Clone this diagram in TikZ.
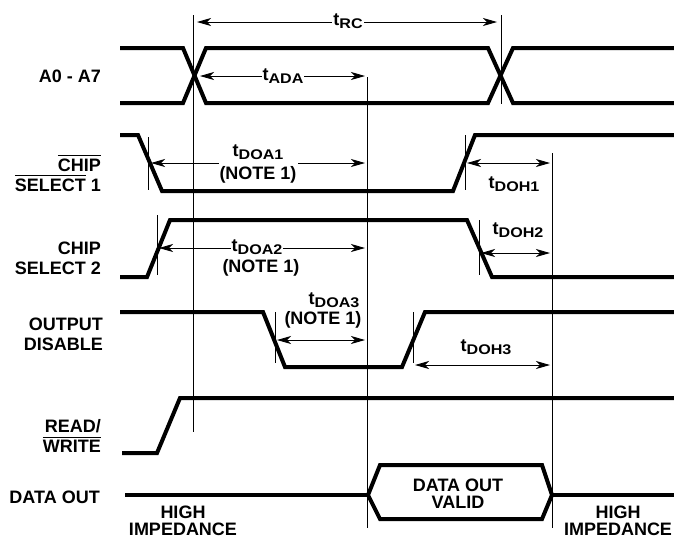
\documentclass[tikz,border=0pt]{standalone}
\usepackage{fontspec}
\setmainfont{Liberation Sans}
\newfontfamily\subfont[FakeStretch=1.15]{Liberation Sans}
\usetikzlibrary{arrows.meta}
\newcommand{\tsub}[1]{t\raisebox{-3pt}{\subfont\bfseries\fontsize{14}{14}\selectfont #1}}
\newcommand{\barred}[1]{\setbox0\hbox{#1}\rlap{\rule[\dimexpr\ht0+2pt\relax]{\wd0}{1.6pt}}\box0\relax}

\begin{document}
\begin{tikzpicture}[x=1pt, y=-1pt,
    sig/.style={line width=4pt},
    hair/.style={line width=0.9pt},
    ddim/.style={hair, {Stealth[length=14pt,width=8pt,inset=4pt]}-{Stealth[length=14pt,width=8pt,inset=4pt]}},
    lbl/.style={font=\bfseries\fontsize{18}{20}\selectfont, align=center, inner sep=1pt},
    sname/.style={lbl, anchor=east, align=right}]
    \useasboundingbox (0,0) rectangle (674,539);

    % signal names
    \node[sname] (nA)   at (102, 76) {A0 - A7};
    \node[sname] (nCS1) at (102,173) {\barred{CHIP}\\\barred{SELECT} 1};
    \node[sname] (nCS2) at (102,258) {CHIP\\SELECT 2};
    \node[sname] (nOD)  at (104,334) {OUTPUT\\DISABLE};
    \node[sname] (nRW)  at (102,436) {READ/\\\barred{WRITE}};
    \node[sname] (nDO)  at (101,497) {DATA OUT};

    % reference lines
    \draw[hair] (193, 15) -- (193,432);
    \draw[hair] (501, 15) -- (501,104);
    \draw[hair] (367, 77) -- (367,528);
    \draw[hair] (552,153) -- (552,528);
    \draw[hair] (148,137) -- (148,190);
    \draw[hair] (465,135) -- (465,190);
    \draw[hair] (157,215) -- (157,275);
    \draw[hair] (479,220) -- (479,275);
    \draw[hair] (275,312) -- (275,363);
    \draw[hair] (413,312) -- (413,363);

    % waveforms
    \draw[sig] (120, 48) -- (183, 48) -- (206,103) -- (488,103) -- (513, 48) -- (674, 48);
    \draw[sig] (120,103) -- (183,103) -- (206, 48) -- (488, 48) -- (513,103) -- (674,103);
    \draw[sig] (120,135) -- (138,135) -- (162,191) -- (453,191) -- (475,135) -- (674,135);
    \draw[sig] (120,277) -- (147,277) -- (170,220) -- (467,220) -- (492,277) -- (674,277);
    \draw[sig] (120,312) -- (263,312) -- (285,367) -- (402,367) -- (425,312) -- (674,312);
    \draw[sig] (122,453) -- (157,453) -- (180,398) -- (674,398);
    \draw[sig] (125,495) -- (368,495);
    \draw[sig] (368,495) -- (380,465) -- (542,465) -- (552,495) -- (542,519) -- (380,519) -- cycle;
    \draw[sig] (552,495) -- (674,495);

    % dimension ends
    \coordinate (rcL)   at (197, 22);  \coordinate (rcR)   at (497, 22);
    \coordinate (adaL)  at (200, 76);  \coordinate (adaR)  at (365, 76);
    \coordinate (doa1L) at (151,163);  \coordinate (doa1R) at (365,163);
    \coordinate (doa2L) at (159,248);  \coordinate (doa2R) at (365,248);
    \coordinate (doa3L) at (277,340);  \coordinate (doa3R) at (365,340);
    \coordinate (doh1L) at (467,163);  \coordinate (doh1R) at (550,163);
    \coordinate (doh2L) at (481,253);  \coordinate (doh2R) at (550,253);
    \coordinate (doh3L) at (415,365);  \coordinate (doh3R) at (550,365);

    \draw[ddim] (rcL)   -- (rcR);
    \draw[ddim] (adaL)  -- (adaR);
    \draw[ddim] (doa1L) -- (doa1R);
    \draw[ddim] (doa2L) -- (doa2R);
    \draw[ddim] (doa3L) -- (doa3R);
    \draw[ddim] (doh1L) -- (doh1R);
    \draw[ddim] (doh2L) -- (doh2R);
    \draw[ddim] (doh3L) -- (doh3R);

    % timing labels
    \node[lbl, fill=white] (lrc)   at (348, 21) {\tsub{RC}};
    \node[lbl, fill=white] (lada)  at (283, 76) {\tsub{ADA}};
    \node[lbl, fill=white, font=\bfseries\fontsize{18}{23}\selectfont] (ldoa1) at (258,164) {\tsub{DOA1}\\(NOTE 1)};
    \node[lbl, fill=white] (ldoa2) at (257,247) {\tsub{DOA2}};
    \node[lbl] (lnote2) at (261,268) {(NOTE 1)};
    \node[lbl] (ldoa3) at (334,300) {\tsub{DOA3}};
    \node[lbl] (lnote3) at (323,320) {(NOTE 1)};
    \node[lbl] (ldoh1) at (514,184) {\tsub{DOH1}};
    \node[lbl] (ldoh2) at (518,230) {\tsub{DOH2}};
    \node[lbl] (ldoh3) at (486,347) {\tsub{DOH3}};

    % data out texts
    \node[lbl, font=\bfseries\fontsize{18}{17}\selectfont] (ldov) at (458,494) {DATA OUT\\VALID};
    \node[lbl, font=\bfseries\fontsize{18}{17.5}\selectfont] (lhi1) at (183,521) {HIGH\\IMPEDANCE};
    \node[lbl, font=\bfseries\fontsize{18}{17.5}\selectfont] (lhi2) at (618,521) {HIGH\\IMPEDANCE};
\end{tikzpicture}
\end{document}
